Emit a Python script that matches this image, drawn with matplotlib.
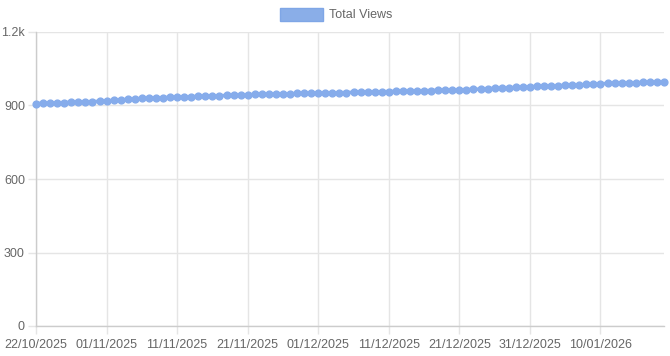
import matplotlib
matplotlib.use("Agg")
import matplotlib.pyplot as plt
import pandas as pd
from matplotlib.patches import Rectangle

start_date = "2025-10-22"
views = [908, 909, 910, 911, 912, 913, 914, 915, 916, 917,
         919, 921, 923, 925, 927, 929, 930, 931, 932, 933,
         934, 935, 936, 937, 938, 939, 940, 941, 942, 943,
         944, 945, 946, 947, 947, 948, 948, 949, 950, 950,
         951, 951, 952, 952, 953, 954, 954, 955, 956, 956,
         957, 958, 958, 959, 960, 960, 961, 962, 963, 963,
         964, 965, 966, 967, 969, 970, 971, 972, 974, 975,
         977, 978, 979, 980, 981, 982, 983, 984, 986, 987,
         989, 990, 991, 992, 993, 993, 994, 994, 994, 994]
dates = pd.date_range(start_date, periods=len(views))
date_labels = [d.strftime("%d/%m/%Y") for d in dates]
y_ticks = [0, 300, 600, 900, 1200]
y_tick_labels = ["0", "300", "600", "900", "1.2k"]
series_name = "Total Views"

W, H = 670, 356
fig = plt.figure(figsize=(W / 100, H / 100), dpi=100)
plt.rcParams['font.family'] = ['Liberation Sans', 'DejaVu Sans']
left, right, top, bottom = 36, 664, 32, 326
ax = fig.add_axes([left / W, 1 - bottom / H, (right - left) / W, (bottom - top) / H])

color = "#86aceb"
x = list(range(len(views)))
ax.plot(x, views, color=color, lw=2.5, marker="o", ms=4.9, mfc=color, mec=color, zorder=3, clip_on=False)

ax.set_xlim(0, len(views) - 1)
ax.set_ylim(0, 1200)
xt = list(range(0, len(views), 10))
ax.set_xticks(xt)
ax.set_xticklabels([date_labels[i] for i in xt])
ax.set_yticks(y_ticks)
ax.set_yticklabels(y_tick_labels)

grid_c = "#e5e5e5"
ax.grid(True, color=grid_c, lw=1)
ax.set_axisbelow(True)
for s in ["top", "right"]:
    ax.spines[s].set_visible(False)
for s in ["left", "bottom"]:
    ax.spines[s].set_color("#cccccc")
    ax.spines[s].set_linewidth(1)
ax.tick_params(axis="both", colors=grid_c, labelcolor="#666666", labelsize=9, length=6, width=1)
ax.tick_params(axis="x", pad=3.5)
ax.tick_params(axis="y", pad=2)

# legend
fig.patches.append(Rectangle((280 / W, 1 - 21 / H), 43 / W, 13 / H, transform=fig.transFigure,
                             facecolor="#8aaee8", edgecolor="#7fa6e6", lw=1))
fig.text(329 / W, 1 - 15 / H, series_name, fontsize=9, color="#666666", va="center", ha="left")

fig.savefig("out.png", dpi=100)
